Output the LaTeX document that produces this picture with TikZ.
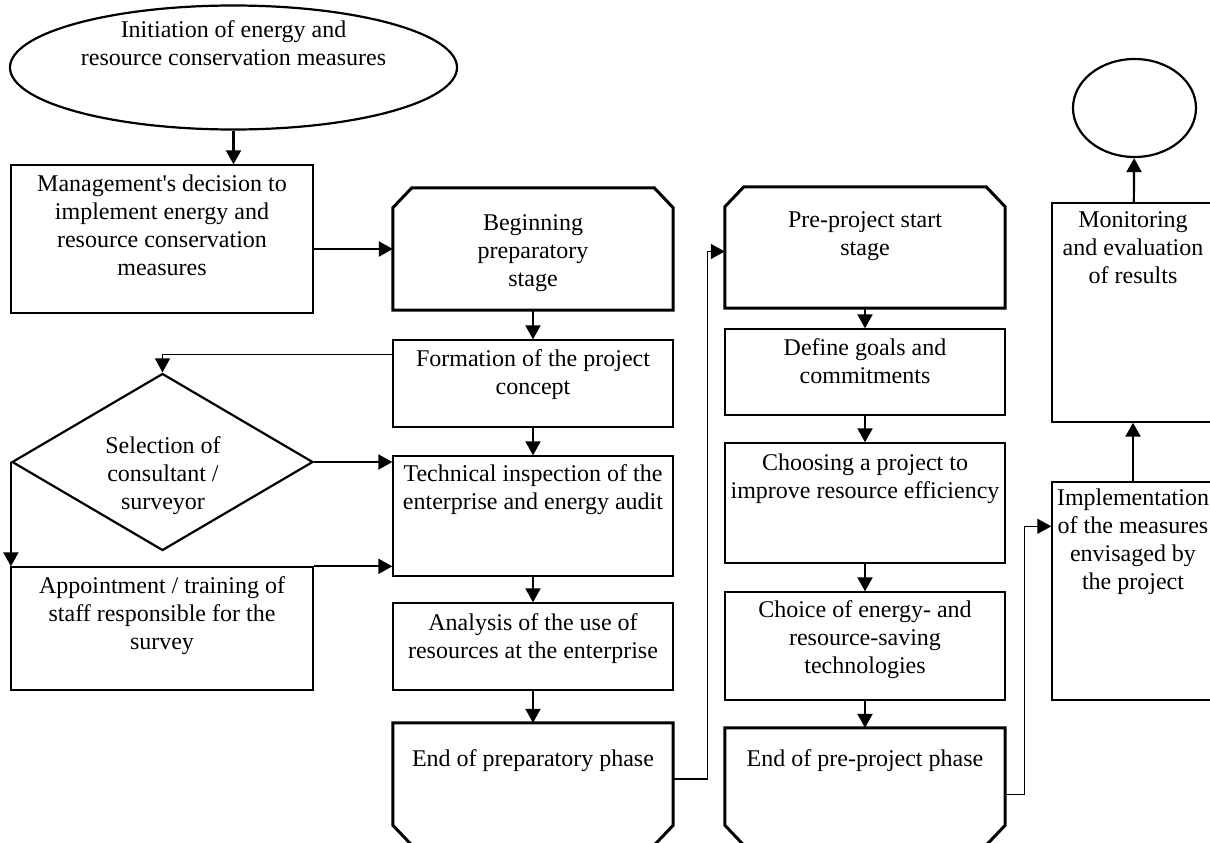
\documentclass[tikz,border=0pt]{standalone}
\usepackage{fontspec}
\setmainfont{Liberation Serif}
\usetikzlibrary{positioning,shapes.geometric,arrows.meta}

% stage boxes with cut corners
\newcommand{\cuttop}[1]{\draw[stage] (#1.south west) -- ([yshift=-20pt]#1.north west) -- ([xshift=19pt]#1.north west)
  -- ([xshift=-19pt]#1.north east) -- ([yshift=-20pt]#1.north east) -- (#1.south east) -- cycle;}
\newcommand{\cutbottom}[1]{\draw[stage] (#1.north west) -- ([yshift=20pt]#1.south west) -- ([xshift=19pt]#1.south west)
  -- ([xshift=-19pt]#1.south east) -- ([yshift=20pt]#1.south east) -- (#1.north east) -- cycle;}

\begin{document}
\begin{tikzpicture}[x=1pt,y=-1pt,
    every node/.style={inner sep=0pt},
    txt/.style={font=\fontsize{24}{28}\selectfont, align=center},
    box/.style={draw, line width=1.4pt, minimum width=#1},
    stagebox/.style={rectangle, minimum width=280pt},
    stage/.style={line width=3pt},
    arr/.style={-{Triangle[length=14pt,width=15pt]}, line width=2.2pt},
    link/.style={-{Triangle[length=14pt,width=15pt]}, line width=1.3pt}]
  \clip (0,0) rectangle (1210,843);

  % first column
  \node (init) at (233.5,67.5) [ellipse, draw, line width=2.2pt, minimum width=447pt, minimum height=124pt] {};
  \node (initt) [txt, below=16pt of init.north] {Initiation of energy and\\resource conservation measures};
  \node (mgmt) at (162,239) [box=302pt, minimum height=148pt] {};
  \node (mgmtt) [txt, below=10pt of mgmt.north] {Management\textquotesingle s decision to\\implement energy and\\resource conservation\\measures};
  \node (sel) at (162.5,462) [diamond, draw, line width=2.2pt, minimum width=301pt, minimum height=177pt] {};
  \node (selt) at (163,476) [txt] {Selection of\\consultant /\\surveyor};
  \node (appt) at (162,628.5) [box=302pt, minimum height=123pt] {};
  \node (apptt) [txt, below=10pt of appt.north] {Appointment / training of\\staff responsible for the\\survey};

  % preparatory stage
  \node (begin) at (533,249) [stagebox, minimum height=122pt] {};
  \cuttop{begin}
  \node (begint) [txt, below=27pt of begin.north] {Beginning\\preparatory\\stage};
  \node (form) at (533,383.5) [box=280pt, minimum height=87pt] {};
  \node (formt) [txt, below=10pt of form.north] {Formation of the project\\concept};
  \node (tech) at (533,516) [box=280pt, minimum height=120pt] {};
  \node (techt) [txt, below=9pt of tech.north] {Technical inspection of the\\enterprise and energy audit};
  \node (anal) at (533,646.5) [box=280pt, minimum height=87pt] {};
  \node (analt) [txt, below=11pt of anal.north] {Analysis of the use of\\resources at the enterprise};
  \node (endp) at (533,784) [stagebox, minimum height=122pt] {};
  \cutbottom{endp}
  \node (endpt) [txt, below=27pt of endp.north] {End of preparatory phase};

  % pre-project stage
  \node (pre) at (865,247.5) [stagebox, minimum height=121pt] {};
  \cuttop{pre}
  \node (pret) [txt, below=25pt of pre.north] {Pre-project start\\stage};
  \node (goal) at (865,372) [box=280pt, minimum height=86pt] {};
  \node (goalt) [txt, below=10pt of goal.north] {Define goals and\\commitments};
  \node (choose) at (865,503) [box=280pt, minimum height=120pt] {};
  \node (chooset) [txt, below=11pt of choose.north] {Choosing a project to\\improve resource efficiency};
  \node (choice) at (865,646) [box=280pt, minimum height=108pt] {};
  \node (choicet) [txt, below=9pt of choice.north] {Choice of energy- and\\resource-saving\\technologies};
  \node (endpre) at (865,786.5) [stagebox, minimum height=117pt] {};
  \cutbottom{endpre}
  \node (endpret) [txt, below=22pt of endpre.north] {End of pre-project phase};

  % last column
  \node (impl) at (1133,591) [box=162pt, minimum height=218pt] {};
  \node (implt) [txt, below=7pt of impl.north] {Implementation\\of the measures\\envisaged by\\the project};
  \node (mon) at (1133,312.5) [box=162pt, minimum height=219pt] {};
  \node (mont) [txt, below=9pt of mon.north] {Monitoring\\and evaluation\\of results};
  \node (fin) at (1134.5,108) [ellipse, draw, line width=2.2pt, minimum width=123pt, minimum height=98pt] {};

  % arrows
  \draw[arr] (init.south) -- (init.south |- mgmt.north);
  \draw[arr] (mgmt.east |- begin.west) -- (begin.west);
  \draw[arr] (begin) -- (form);
  \draw[link] ([yshift=-15pt]form.north west) -| (sel.north);
  \draw[arr] (sel.east) -- (sel.east -| tech.west);
  \draw[arr] (sel.west) -- (sel.west |- appt.north);
  \draw[arr] (appt.north east) -- (appt.north east -| tech.west);
  \draw[arr] (form) -- (tech);
  \draw[arr] (tech) -- (anal);
  \draw[arr] (anal) -- (endp);
  \draw[link] ([yshift=5pt]endp.east) -- ++(34,0) |- ([yshift=-4pt]pre.west);
  \draw[arr] (pre) -- (goal);
  \draw[arr] (goal) -- (choose);
  \draw[arr] (choose) -- (choice);
  \draw[arr] (choice) -- (endpre);
  \draw[link] ([yshift=-8pt]endpre.east) -- ++(19,0) |- ([yshift=-45pt]impl.north west);
  \draw[arr] (impl) -- (mon);
  \draw[arr] (mon) -- (fin);
\end{tikzpicture}
\end{document}
